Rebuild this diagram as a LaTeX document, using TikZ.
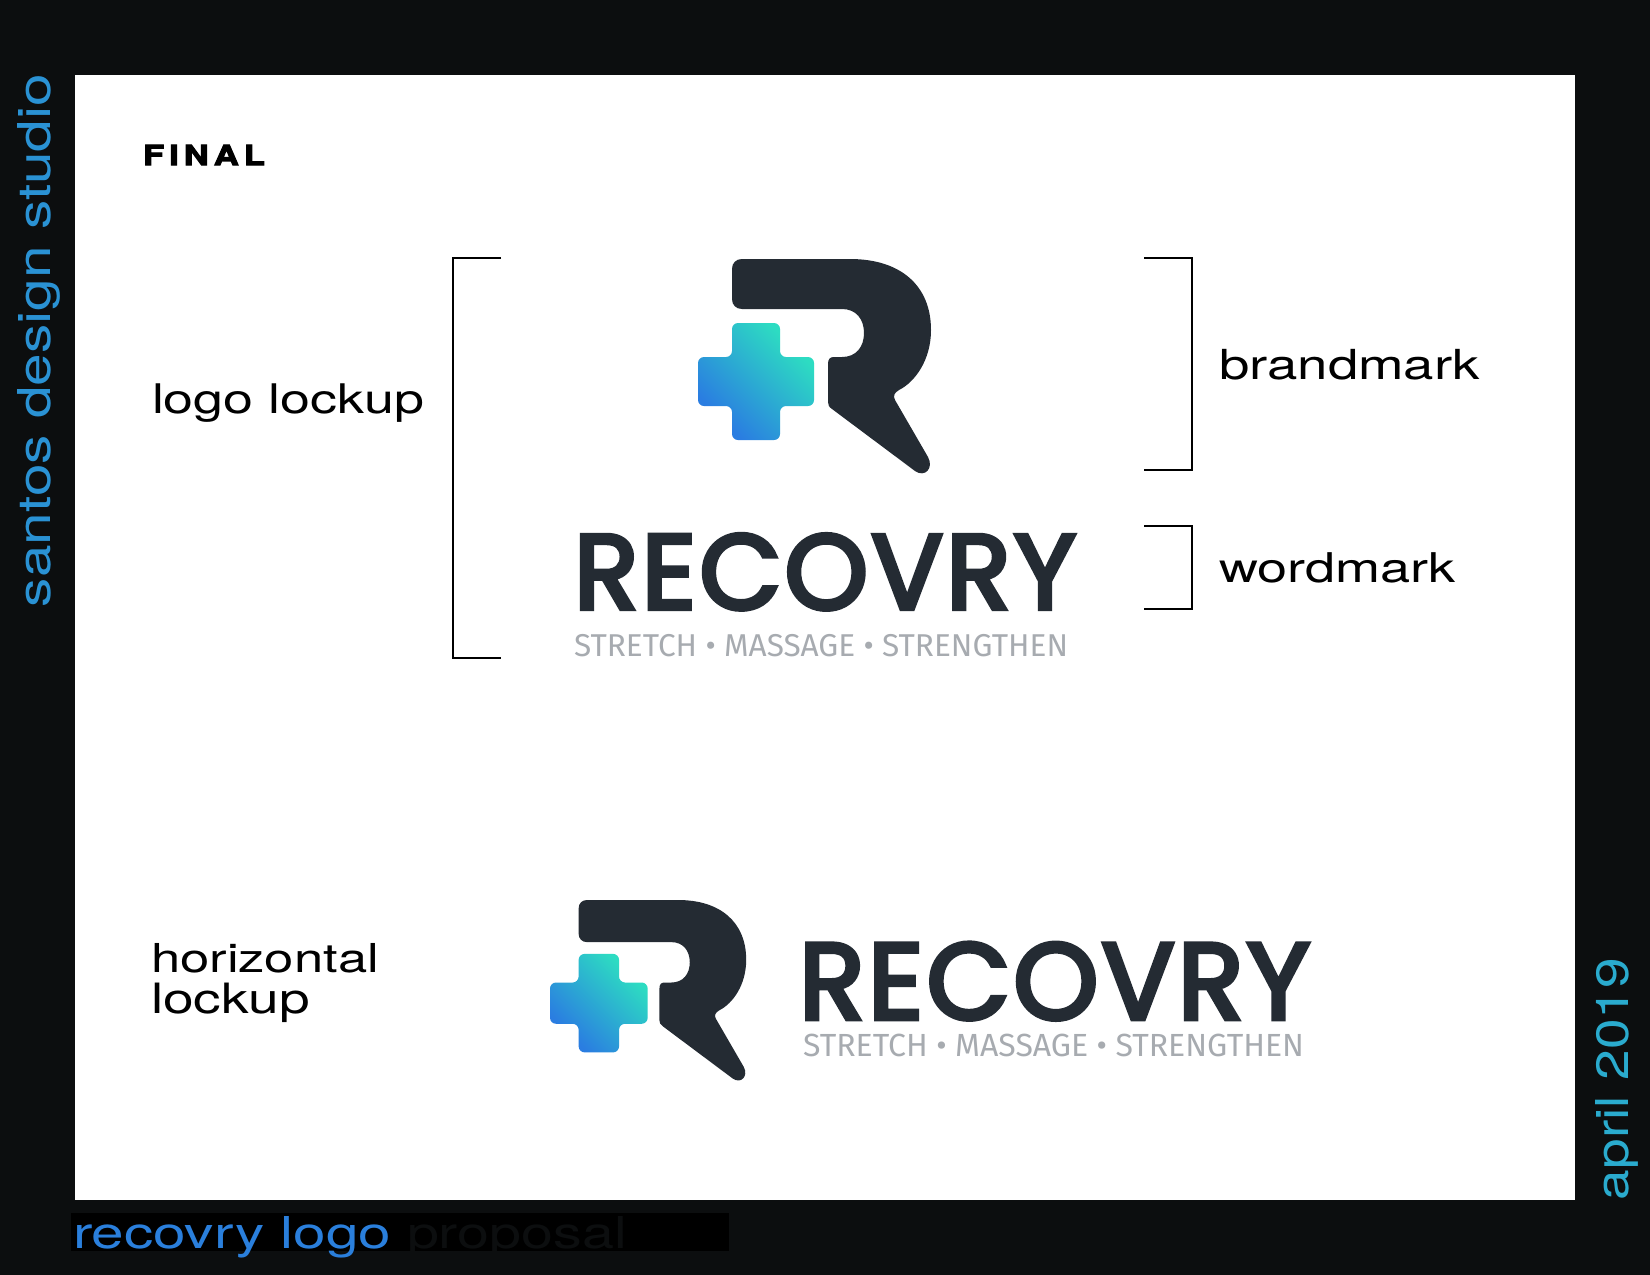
\documentclass[tikz,border=0pt]{standalone}
\usepackage{fontspec}
\setmainfont{TeX Gyre Heros}
\newfontfamily\widefont[FakeStretch=1.32]{TeX Gyre Heros}
\newfontfamily\finalfont[FakeStretch=1.3,FakeBold=4]{TeX Gyre Heros Bold}
\newfontfamily\wordfont[FakeBold=4.2,LetterSpace=3]{Poppins}
\newfontfamily\tagfont{Fira Sans}
\definecolor{pagebg}{HTML}{0C0E0F}
\definecolor{ink}{HTML}{242B33}
\definecolor{taggray}{HTML}{A7ABB0}
\definecolor{crossblue}{HTML}{2A7DE1}
\definecolor{crossteal}{HTML}{2DDCC2}
\definecolor{sideblue}{HTML}{2A92D4}
\definecolor{sideteal}{HTML}{2AABCE}
\definecolor{barblue}{HTML}{2A7FDC}
\pgfdeclarehorizontalshading{crossgrad}{100bp}{color(0bp)=(crossblue); color(28bp)=(crossblue); color(72bp)=(crossteal); color(100bp)=(crossteal)}
\newcommand{\brandmark}{%
  \fill[ink] (742,259) -- (850,259) .. controls (900,259) and (931,285) .. (931,330)
    .. controls (931,360) and (915,382) .. (899,390)
    .. controls (894,393) and (893,396) .. (895,400) -- (928,457)
    .. controls (934,468) and (925,478) .. (915,471) -- (832,409)
    .. controls (829,407) and (828,405) .. (828,402) -- (828,364)
    .. controls (828,359) and (830,357) .. (834,357) -- (842,357)
    .. controls (856,357) and (864,347) .. (864,333)
    .. controls (864,319) and (856,309) .. (842,309) -- (742,309)
    .. controls (736,309) and (732,305) .. (732,299) -- (732,269)
    .. controls (732,263) and (736,259) .. (742,259) -- cycle;
  \shade[shading=crossgrad,shading angle=45,rounded corners=6]
    (732,323) -- (780,323) -- (780,357) -- (814,357) -- (814,406) -- (780,406)
    -- (780,440) -- (732,440) -- (732,406) -- (698,406) -- (698,357) -- (732,357) -- cycle;
}
\tikzset{
  lbl/.style={anchor=base west,inner sep=0pt,outer sep=0pt,text=black},
  bracketline/.style={draw=black,line width=1.4pt,line cap=butt,line join=miter},
  sidetext/.style={anchor=base west,inner sep=0pt,outer sep=0pt,rotate=90}
}
\begin{document}
\begin{tikzpicture}[x=1pt,y=-1pt]
\useasboundingbox (0,0) rectangle (1650,1275);
\fill[pagebg] (0,0) rectangle (1650,1275);
\fill[white] (75,75) rectangle (1575,1200);
\fill[black] (71,1213) rectangle (729,1251);
% brackets
\draw[bracketline] (501,258) -- (453,258) -- (453,658) -- (501,658);
\draw[bracketline] (1144,258) -- (1192,258) -- (1192,470) -- (1144,470);
\draw[bracketline] (1144,526) -- (1192,526) -- (1192,609) -- (1144,609);
% marks
\begin{scope}
\brandmark
\end{scope}
\begin{scope}[shift={(550,900)},scale=.842,shift={(-698,-259)}]
\brandmark
\end{scope}
% wordmarks
\node[lbl,text=ink] (wm1) at (574,609) {\resizebox{502pt}{!}{\wordfont\fontsize{110}{110}\selectfont RECOVRY}};
\node[lbl,text=taggray] (tag1) at (574,656) {\resizebox{494pt}{!}{\tagfont\fontsize{29}{29}\selectfont STRETCH • MASSAGE • STRENGTHEN}};
\node[lbl,text=ink] (wm2) at (799,1019) {\resizebox{511pt}{!}{\wordfont\fontsize{110}{110}\selectfont RECOVRY}};
\node[lbl,text=taggray] (tag2) at (803,1056) {\resizebox{501pt}{!}{\tagfont\fontsize{29}{29}\selectfont STRETCH • MASSAGE • STRENGTHEN}};
% labels
\node[lbl] (final) at (143,165) {\resizebox{122pt}{20pt}{\finalfont\fontsize{26}{26}\selectfont F\kern5pt I\kern5pt N\kern5pt A\kern5pt L}};
\node[lbl] (lockup) at (152,413) {\resizebox{272pt}{!}{\widefont\fontsize{40}{40}\selectfont logo lockup}};
\node[lbl] (brand) at (1219,379) {\resizebox{261pt}{!}{\widefont\fontsize{40}{40}\selectfont brandmark}};
\node[lbl] (word) at (1219,582) {\resizebox{237pt}{!}{\widefont\fontsize{40}{40}\selectfont wordmark}};
\node[lbl] (horiz) at (151,972) {\resizebox{228pt}{!}{\widefont\fontsize{40}{40}\selectfont horizontal}};
\node[lbl] (lock2) at (151,1013) {\resizebox{159pt}{!}{\widefont\fontsize{40}{40}\selectfont lockup}};
% side and bottom text
\node[sidetext,text=sideblue] (santos) at (50,607) {\resizebox{533pt}{33pt}{\fontsize{44}{44}\selectfont santos design studio}};
\node[sidetext,text=sideteal] (april) at (1628,1200) {\resizebox{242pt}{33pt}{\fontsize{44}{44}\selectfont april 2019}};
\node[lbl,text=barblue] (bar1) at (73,1248) {\resizebox{318pt}{32pt}{\fontsize{44}{44}\selectfont recovry logo}};
\node[lbl,text=pagebg] (bar2) at (407,1248) {\resizebox{220pt}{32pt}{\fontsize{44}{44}\selectfont proposal}};
\end{tikzpicture}
\end{document}
